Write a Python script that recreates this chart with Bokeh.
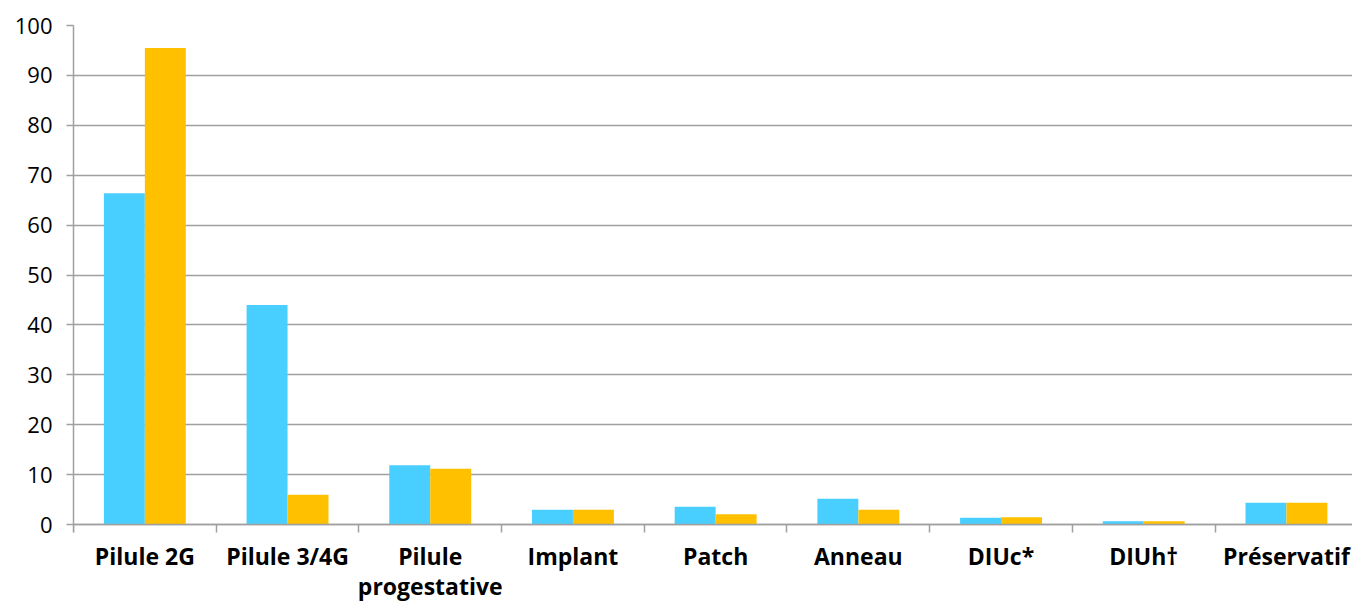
from bokeh.plotting import figure
from bokeh.models import FixedTicker, Range1d, ColumnDataSource, LinearAxis
from bokeh.embed import file_html
from bokeh.resources import INLINE

categories = ["Pilule 2G", "Pilule 3/4G", "Pilule progestative", "Implant", "Patch",
              "Anneau", "DIUc*", "DIUh\u2020", "Pr\u00e9servatif"]
series_blue = [66.4, 44.0, 11.9, 3.0, 3.6, 5.2, 1.4, 0.7, 4.4]
series_orange = [95.5, 6.0, 11.2, 3.0, 2.1, 3.0, 1.5, 0.7, 4.4]
y_ticks = [0, 10, 20, 30, 40, 50, 60, 70, 80, 90, 100]

BLUE = "#49CFFF"
ORANGE = "#FFC000"
GRID = "#a0a0a0"
FONT = "Open Sans"

n = len(categories)
centers = [i + 0.5 for i in range(n)]
bw = 0.287

# long category labels wrap onto two lines (like the original)
first_lines = {}
second_lines = {}
for c, lab in zip(centers, categories):
    if len(lab) > 14 and " " in lab:
        a, b = lab.split(" ", 1)
        first_lines[c] = a
        second_lines[c] = b
    else:
        first_lines[c] = lab

src = ColumnDataSource(dict(
    xb=[c - bw / 2 for c in centers],
    xo=[c + bw / 2 for c in centers],
    b=series_blue,
    o=series_orange,
))

# the frame runs down to the page bottom so the category labels (drawn at y=0) are not clipped
p = figure(width=1352, height=601, output_backend="svg", toolbar_location=None,
           x_range=Range1d(0, 8.963), y_range=Range1d(-15.4, 100),
           x_axis_location=None,
           min_border_left=73, min_border_right=0, min_border_top=25, min_border_bottom=0)
p.outline_line_color = None
p.background_fill_color = "white"
p.border_fill_color = "white"

p.vbar(x="xb", top="b", width=bw, bottom=0, source=src, fill_color=BLUE, line_color=None)
p.vbar(x="xo", top="o", width=bw, bottom=0, source=src, fill_color=ORANGE, line_color=None)

p.xgrid.visible = False
p.ygrid.ticker = FixedTicker(ticks=y_ticks)
p.ygrid.grid_line_color = GRID
p.ygrid.grid_line_width = 1.5
p.ygrid.bounds = (0, n)

# y axis
p.yaxis.ticker = FixedTicker(ticks=y_ticks)
p.yaxis.bounds = (-1.6, 100)
p.yaxis.axis_line_color = GRID
p.yaxis.axis_line_width = 1.5
p.yaxis.major_tick_line_color = GRID
p.yaxis.major_tick_line_width = 1.5
p.yaxis.major_tick_in = 0
p.yaxis.major_tick_out = 7
p.yaxis.minor_tick_line_color = None
p.yaxis.major_label_text_font = FONT
p.yaxis.major_label_text_font_size = "22px"
p.yaxis.major_label_text_color = "black"
p.yaxis.major_label_standoff = 14


def label_axis(labels, standoff, show_line):
    ax = LinearAxis(ticker=FixedTicker(ticks=list(labels.keys()),
                                       minor_ticks=list(range(n + 1)) if show_line else []),
                    major_label_overrides=labels, fixed_location=0)
    ax.axis_line_color = GRID if show_line else None
    ax.axis_line_width = 1.5
    ax.major_tick_line_color = None
    ax.major_tick_in = 0
    ax.major_tick_out = 0
    ax.minor_tick_line_color = GRID if show_line else None
    ax.minor_tick_line_width = 1.5
    ax.minor_tick_in = 0
    ax.minor_tick_out = 8
    ax.major_label_text_font = FONT
    ax.major_label_text_font_style = "bold"
    ax.major_label_text_font_size = "23px"
    ax.major_label_text_color = "black"
    ax.major_label_standoff = standoff
    p.add_layout(ax, "below")


# x axis: labels at category centres, tick marks at category boundaries
label_axis(first_lines, 7, True)
label_axis(second_lines, 45, False)

open("out.html", "w").write(file_html(p, INLINE))
